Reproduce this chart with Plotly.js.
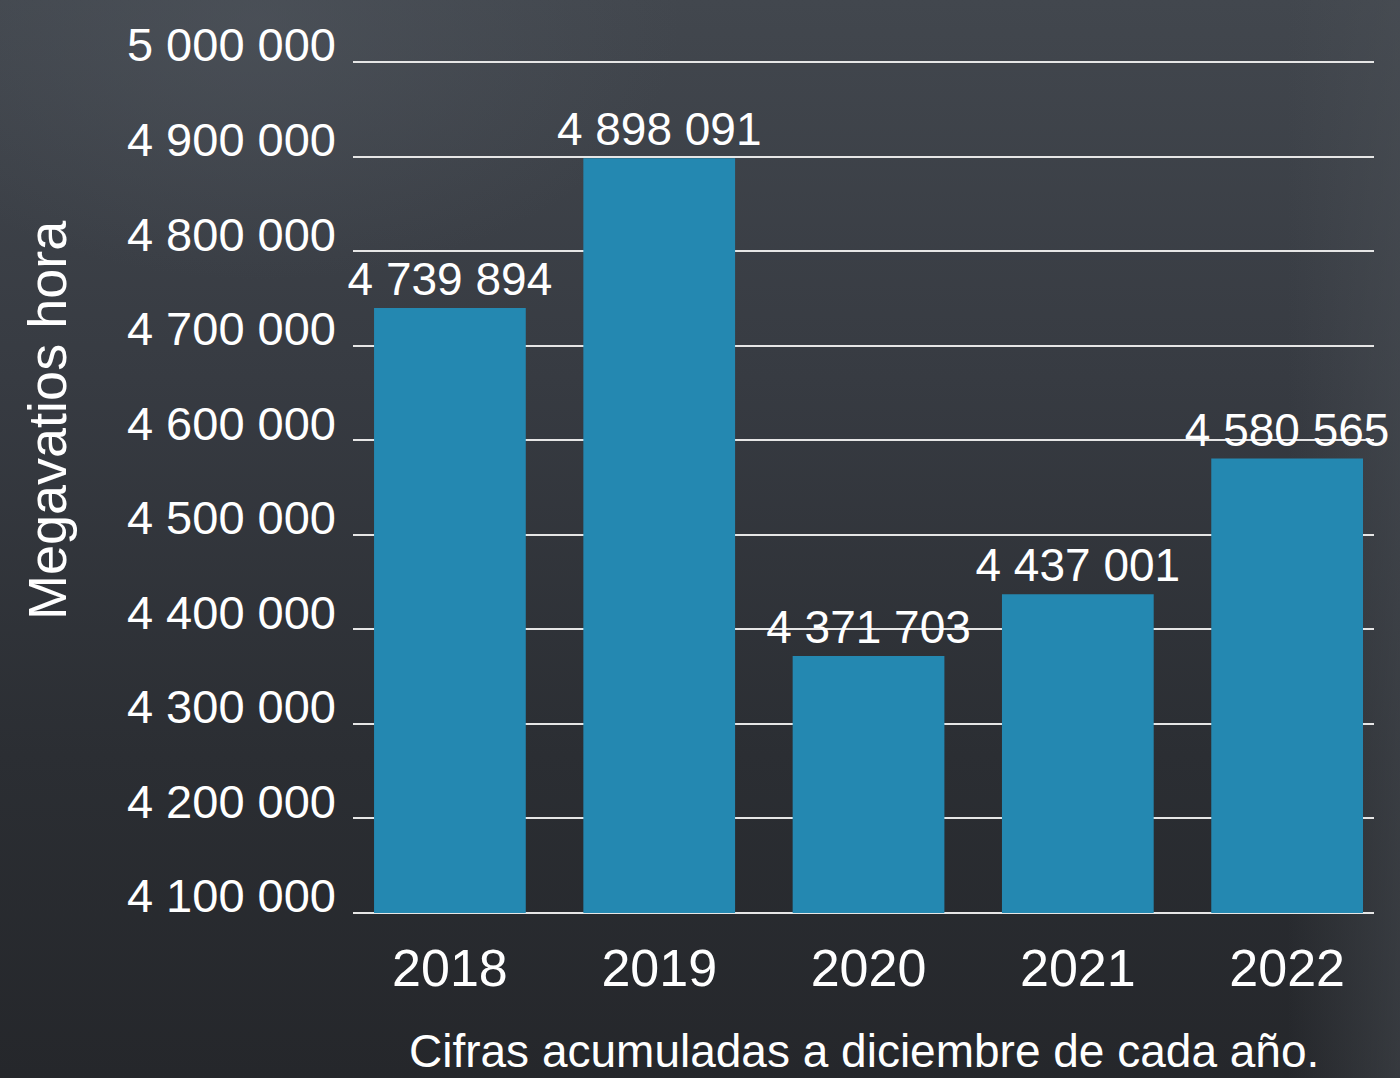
<!DOCTYPE html>
<html>
<head>
<meta charset="utf-8">
<script src="https://cdn.plot.ly/plotly-3.0.1.min.js"></script>
<style>
  html, body { margin: 0; padding: 0; width: 1400px; height: 1078px; overflow: hidden; }
  body {
    background:
      radial-gradient(ellipse 420px 260px at 260px 20px, rgba(80,86,94,0.55), rgba(80,86,94,0) 100%),
      linear-gradient(to right, rgba(0,0,0,0) 0%, rgba(0,0,0,0) 92%, rgba(75,80,86,0.45) 100%),
      linear-gradient(to bottom, #42474e 0%, #373b42 35%, #2b2e33 70%, #25272b 100%);
  }
  #chart { width: 1400px; height: 1078px; }
</style>
</head>
<body>
<div id="chart"></div>
<script>
const years = ['2018', '2019', '2020', '2021', '2022'];
const megawattHours = [4739894, 4898091, 4371703, 4437001, 4580565];
const yTickValues = [4100000, 4200000, 4300000, 4400000, 4500000, 4600000, 4700000, 4800000, 4900000, 5000000];
const yAxisTitle = 'Megavatios hora';
const footnote = 'Cifras acumuladas a diciembre de cada año.';

const FONT = '"Liberation Sans", Arial, Helvetica, sans-serif';
const yMin = 4100000, yMax = 5000000;
const pad = 2 * (yMax - yMin) / 851; // 2px of padding so edge gridlines are drawn

const trace = {
  type: 'bar',
  x: years,
  y: megawattHours.map(v => v - yMin),
  base: yMin,
  customdata: megawattHours,
  marker: { color: '#2488b1', line: { width: 0 } },
  texttemplate: '%{customdata:,d}',
  textposition: 'outside',
  constraintext: 'none',
  cliponaxis: false,
  textfont: { family: FONT, size: 46, color: '#ffffff' },
  hoverinfo: 'none'
};

const layout = {
  width: 1400,
  height: 1078,
  margin: { l: 353, r: 26, t: 60, b: 163 },
  paper_bgcolor: 'rgba(0,0,0,0)',
  plot_bgcolor: 'rgba(0,0,0,0)',
  separators: ', ',
  bargap: 0.275,
  showlegend: false,
  font: { family: FONT, color: '#ffffff' },
  xaxis: {
    type: 'category',
    range: [-0.463, 4.415],
    showgrid: false,
    zeroline: false,
    showline: false,
    ticks: '',
    ticklabelstandoff: 18,
    tickfont: { family: FONT, size: 52, color: '#ffffff' }
  },
  yaxis: {
    range: [yMin - pad, yMax + pad],
    tickvals: yTickValues,
    tickformat: ',d',
    showgrid: true,
    gridcolor: '#e6e6e6',
    gridwidth: 2,
    zeroline: false,
    showline: false,
    ticks: '',
    ticklabelstandoff: 16,
    ticklabelshift: -17,
    tickfont: { family: FONT, size: 47, color: '#ffffff' }
  },
  annotations: [
    {
      text: yAxisTitle,
      textangle: -90,
      xref: 'paper', yref: 'paper',
      x: 0, xshift: -306,
      y: (915 - 420) / 855,
      xanchor: 'center', yanchor: 'middle',
      showarrow: false,
      font: { family: FONT, size: 54, color: '#ffffff' }
    },
    {
      text: footnote,
      xref: 'paper', yref: 'paper',
      x: 0.5, y: 0,
      yshift: -108,
      xanchor: 'center', yanchor: 'top',
      showarrow: false,
      font: { family: FONT, size: 46, color: '#ffffff' }
    }
  ]
};

Plotly.newPlot('chart', [trace], layout, { displayModeBar: false, staticPlot: true });
</script>
</body>
</html>
